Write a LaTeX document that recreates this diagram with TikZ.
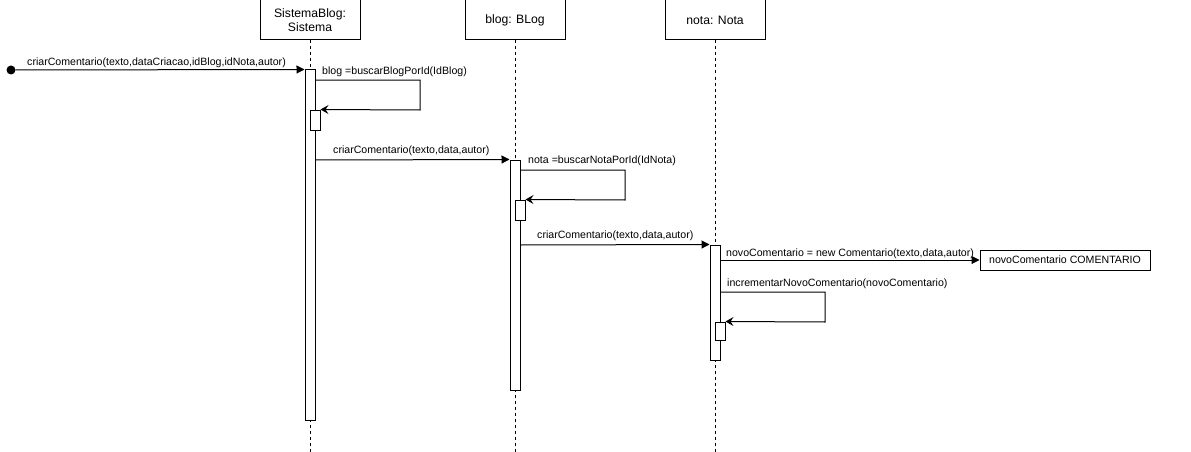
\documentclass[tikz,border=0pt]{standalone}
\usepackage{fontspec}
\setmainfont{Liberation Sans}
\usetikzlibrary{arrows.meta}
\begin{document}
\begin{tikzpicture}[x=1pt,y=-1pt,
 every node/.style={font=\fontsize{10.6}{12}\selectfont, inner sep=0pt},
 head/.style={draw, minimum width=100pt, minimum height=40pt, font=\fontsize{12.2}{14.5}\selectfont, align=center, line width=1pt},
 bar/.style={draw, fill=white, minimum width=10pt, line width=1pt},
 life/.style={dash pattern=on 3pt off 3pt, line width=0.9pt},
 msg/.style={-{Triangle[length=8pt,width=8pt]}, line width=1pt},
 selfmsg/.style={-{Stealth[length=8pt,width=9pt,inset=3pt]}, line width=1pt},
 lbl/.style={anchor=west}
]
\useasboundingbox (0,0) rectangle (1191,452);

% heads
\node[head] (hs) at (310,20) {SistemaBlog:\\Sistema};
\node[head] (hb) at (515,20) {blog: BLog};
\node[head] (hn) at (715,20) {nota: Nota};

% lifelines
\coordinate (hsend) at (310,452);
\coordinate (hbend) at (515,452);
\coordinate (hnend) at (715,452);
\draw[life] (hs.south) -- (hsend);
\draw[life] (hb.south) -- (hbend);
\draw[life] (hn.south) -- (hnend);

% activation bars
\node[bar, minimum height=350pt] (a1) at (310,245) {};
\node[bar, minimum height=20pt] (a1n) at (315,120) {};
\node[bar, minimum height=230pt] (b1) at (515,275) {};
\node[bar, minimum height=20pt] (b1n) at (520,210) {};
\node[bar, minimum height=115pt] (c1) at (715,302.5) {};
\node[bar, minimum height=18pt] (c1n) at (720,331) {};

% object created
\node[draw, line width=1pt, minimum width=170pt, minimum height=20pt] (obj) at (1065,260) {novoComentario COMENTARIO};

% initial dot
\node[circle, fill, minimum size=9pt] (dot) at (11,70) {};

% messages
\draw[msg] (dot) -- (a1.north west);
\node[lbl] (l1) at (27,62.5) {criarComentario(texto,dataCriacao,idBlog,idNota,autor)};

\draw[selfmsg] (a1.east |- 0,80) -| (420,110) -- (a1n.north east);
\node[lbl] (l2) at (322,72) {blog =buscarBlogPorId(IdBlog)};

\draw[msg] (a1.east |- 0,160) -- (b1.north west);
\node[lbl] (l3) at (333,151) {criarComentario(texto,data,autor)};

\draw[selfmsg] (b1.east |- 0,170) -| (625,200) -- (b1n.north east);
\node[lbl] (l4) at (528,161) {nota =buscarNotaPorId(IdNota)};

\draw[msg] (b1.east |- 0,245) -- (c1.north west);
\node[lbl] (l5) at (537,236) {criarComentario(texto,data,autor)};

\draw[msg] (c1.east |- 0,260) -- (obj.west);
\node[lbl] (l6) at (726,254) {novoComentario = new Comentario(texto,data,autor)};

\draw[selfmsg] (c1.east |- 0,292) -| (825,322) -- (c1n.north east);
\node[lbl] (l7) at (727,284) {incrementarNovoComentario(novoComentario)};
\end{tikzpicture}
\end{document}
